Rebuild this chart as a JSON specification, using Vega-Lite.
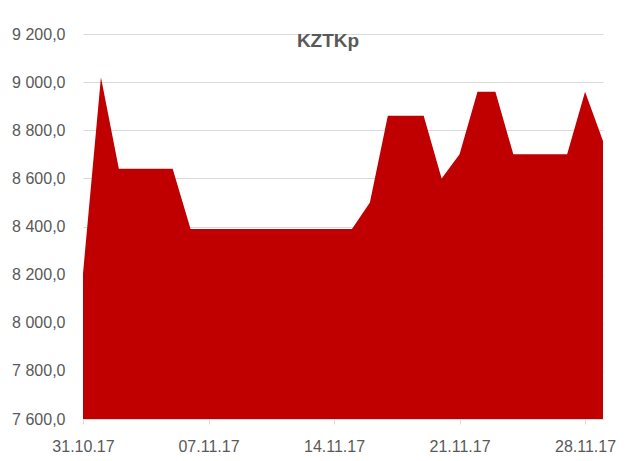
{
  "$schema": "https://vega.github.io/schema/vega-lite/v6.json",
  "width": 520,
  "height": 385,
  "autosize": {"type": "none"},
  "padding": {"left": 83, "top": 34, "right": 38, "bottom": 42},
  "background": "white",
  "title": {
    "text": "KZTKp",
    "font": "Liberation Sans",
    "fontSize": 19,
    "fontWeight": "bold",
    "color": "#595959",
    "anchor": "middle",
    "frame": "group",
    "baseline": "alphabetic",
    "offset": -13,
    "dx": -15,
    "dy": 27
  },
  "config": {
    "view": {"stroke": null},
    "axis": {
      "labelFont": "Liberation Sans",
      "labelFontSize": 16,
      "labelColor": "#595959",
      "gridColor": "#d9d9d9",
      "domainColor": "#d9d9d9",
      "tickColor": "#d9d9d9"
    }
  },
  "data": {
    "values": [
      {"date": "2017-10-31", "value": 8205},
      {"date": "2017-11-01", "value": 9020},
      {"date": "2017-11-02", "value": 8640},
      {"date": "2017-11-03", "value": 8640},
      {"date": "2017-11-04", "value": 8640},
      {"date": "2017-11-05", "value": 8640},
      {"date": "2017-11-06", "value": 8390},
      {"date": "2017-11-07", "value": 8390},
      {"date": "2017-11-08", "value": 8390},
      {"date": "2017-11-09", "value": 8390},
      {"date": "2017-11-10", "value": 8390},
      {"date": "2017-11-11", "value": 8390},
      {"date": "2017-11-12", "value": 8390},
      {"date": "2017-11-13", "value": 8390},
      {"date": "2017-11-14", "value": 8390},
      {"date": "2017-11-15", "value": 8390},
      {"date": "2017-11-16", "value": 8500},
      {"date": "2017-11-17", "value": 8860},
      {"date": "2017-11-18", "value": 8860},
      {"date": "2017-11-19", "value": 8860},
      {"date": "2017-11-20", "value": 8600},
      {"date": "2017-11-21", "value": 8700},
      {"date": "2017-11-22", "value": 8960},
      {"date": "2017-11-23", "value": 8960},
      {"date": "2017-11-24", "value": 8700},
      {"date": "2017-11-25", "value": 8700},
      {"date": "2017-11-26", "value": 8700},
      {"date": "2017-11-27", "value": 8700},
      {"date": "2017-11-28", "value": 8960},
      {"date": "2017-11-29", "value": 8755}
    ]
  },
  "mark": {"type": "area", "color": "#c00000", "interpolate": "linear"},
  "encoding": {
    "x": {
      "field": "date",
      "type": "temporal",
      "scale": {"type": "utc", "nice": false},
      "axis": {
        "title": null,
        "format": "%d.%m.%y",
        "values": [
          {"year": 2017, "month": 10, "date": 31, "utc": true},
          {"year": 2017, "month": 11, "date": 7, "utc": true},
          {"year": 2017, "month": 11, "date": 14, "utc": true},
          {"year": 2017, "month": 11, "date": 21, "utc": true},
          {"year": 2017, "month": 11, "date": 28, "utc": true}
        ],
        "grid": false,
        "tickSize": 5,
        "labelPadding": 14,
        "labelFlush": false,
        "labelOverlap": false,
        "zindex": 1
      }
    },
    "y": {
      "field": "value",
      "type": "quantitative",
      "scale": {"domain": [7600, 9200], "nice": false, "zero": false},
      "axis": {
        "title": null,
        "values": [7600, 7800, 8000, 8200, 8400, 8600, 8800, 9000, 9200],
        "labelExpr": "replace(replace(format(datum.value, ',.1f'), ',', ' '), '.', ',')",
        "domain": false,
        "ticks": false,
        "labelPadding": 18,
        "grid": true
      }
    },
    "y2": {"datum": 7600}
  }
}
